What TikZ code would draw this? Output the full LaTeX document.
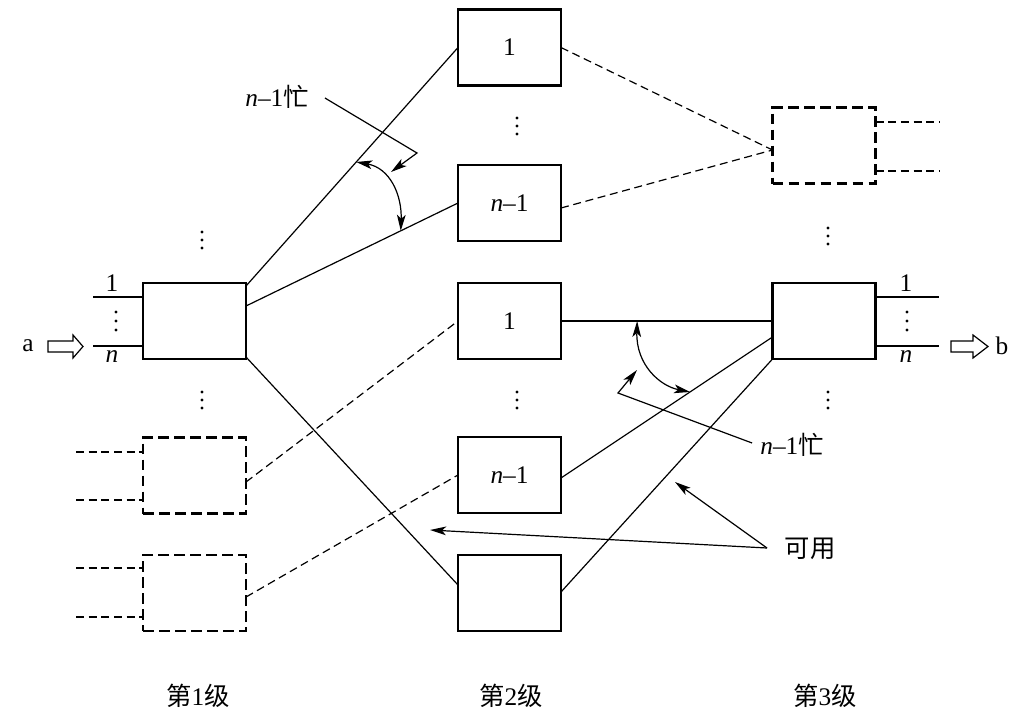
\documentclass[tikz,border=0pt]{standalone}
\usepackage{fontspec}
\setmainfont{Liberation Serif}
\newfontfamily\cjk{Noto Sans CJK SC}
\usetikzlibrary{arrows.meta,calc}
\begin{document}
\begin{tikzpicture}[x=0.75pt,y=-0.75pt,
  box/.style={draw,line width=1.8pt,minimum width=77.25pt,minimum height=57pt,inner sep=0pt,outer sep=0pt,font=\fontsize{19}{22}\selectfont},
  dbox/.style={box,dash pattern=on 8pt off 4pt},
  conn/.style={line width=0.9pt},
  dconn/.style={conn,dash pattern=on 6pt off 3.5pt},
  arr/.style={-{Stealth[length=12pt,width=6.5pt,inset=3pt]}},
  darr/.style={{Stealth[length=12pt,width=6.5pt,inset=3pt]}-{Stealth[length=12pt,width=6.5pt,inset=3pt]}},
  lbl/.style={font=\fontsize{19}{22}\selectfont,inner sep=0pt},
  hollow/.style={draw,line width=0.9pt,fill=white}
]
\useasboundingbox (0,0) rectangle (1023,717);

% stage 1
\node[box] (s1) at (194.5,321) {};
\node[dbox] (s1d1) at (194.5,475.5) {};
\node[dbox] (s1d2) at (194.5,593) {};
% stage 2
\node[box] (s2a) at (509.5,47.5) {1};
\node[box] (s2b) at (509.5,203) {\textit{n}–1};
\node[box] (s2c) at (509.5,321) {1};
\node[box] (s2d) at (509.5,475) {\textit{n}–1};
\node[box] (s2e) at (509.5,593) {};
% stage 3
\node[dbox] (s3d) at (824,145.5) {};
\node[box] (s3) at (824,321) {};

% inputs of stage 1
\coordinate (i1) at (93,297);
\coordinate (i2) at (93,346);
\draw[conn] (i1) -- (s1.west |- i1);
\draw[conn] (i2) -- (s1.west |- i2);
\node[lbl] (in1) at (112,283) {1};
\node[lbl] (inn) at (112,357) {\textit{n}};
\foreach \yy in {312,321,330} \fill (116,\yy) circle (1.7);

\coordinate (d11) at (76,452);
\coordinate (d12) at (76,500);
\coordinate (d21) at (76,568);
\coordinate (d22) at (76,617);
\draw[dconn] (d11) -- (s1d1.west |- d11);
\draw[dconn] (d12) -- (s1d1.west |- d12);
\draw[dconn] (d21) -- (s1d2.west |- d21);
\draw[dconn] (d22) -- (s1d2.west |- d22);

% outputs of stage 3
\coordinate (o1) at (939,297);
\coordinate (o2) at (939,346);
\draw[conn] (s3.east |- o1) -- (o1);
\draw[conn] (s3.east |- o2) -- (o2);
\node[lbl] (out1) at (906,283) {1};
\node[lbl] (outn) at (906,357) {\textit{n}};
\foreach \yy in {312,321,330} \fill (907,\yy) circle (1.7);

\coordinate (e1) at (940,122);
\coordinate (e2) at (940,171);
\draw[dconn] (s3d.east |- e1) -- (e1);
\draw[dconn] (s3d.east |- e2) -- (e2);

% vertical dots
\foreach \xx in {202,517,828} {
  \foreach \yy in {392,400,408} \fill (\xx,\yy) circle (1.7);
}
\foreach \yy in {232,240,248} \fill (202,\yy) circle (1.7);
\foreach \yy in {118,126,134} \fill (517,\yy) circle (1.7);
\foreach \yy in {228,236,244} \fill (828,\yy) circle (1.7);

% connectors stage 1 -> 2
\coordinate (L1s) at ($(s1.north east)+(0,3)$);
\coordinate (L2s) at ($(s1.east)+(0,-15)$);
\coordinate (L3s) at ($(s1.south east)+(0,-2)$);
\draw[conn] (L1s) -- (s2a.west);
\draw[conn] (L2s) -- (s2b.west);
\draw[conn] (L3s) -- ($(s2e.west)+(0,-8)$);
\draw[dconn] ($(s1d1.east)+(0,6.5)$) -- (s2c.west);
\draw[dconn] ($(s1d2.east)+(0,4)$) -- (s2d.west);

% connectors stage 2 -> 3
\coordinate (m3) at ($(s3d.west)+(0,4.5)$);
\draw[dconn] (s2a.east) -- (m3);
\draw[dconn] ($(s2b.east)+(0,5)$) -- (m3);
\draw[conn] (s2c.east) -- (s3.west);
\coordinate (S2s) at ($(s2d.east)+(0,3)$);
\coordinate (S2e) at ($(s3.west)+(0,16)$);
\draw[conn] (S2s) -- (S2e);
\draw[conn] ($(s2e.east)+(0,-1)$) -- (s3.south west);

% annotation top
\node[lbl] (t1) at (277,97) {\textit{n}–1{\cjk 忙}};
\draw[conn,arr] ($(t1.east)+(16,1)$) -- (417,153) -- (391,172);
\draw[conn,darr] ($(L1s)!0.52!(s2a.west)$) .. controls (390,168) and (402,195) .. ($(L2s)!0.73!(s2b.west)$);

% annotation middle
\node[lbl] (t2) at (792,445) {\textit{n}–1{\cjk 忙}};
\draw[conn,arr] ($(t2.west)+(-8,-2)$) -- (618,393) -- (637,370);
\draw[conn,darr] ($(s2c.east)!0.36!(s3.west)$) .. controls (636,365) and (660,386) .. ($(S2s)!0.61!(S2e)$);

% annotation available
\node[lbl] (t3) at (810,549) {\cjk 可用};
\coordinate (k) at (767,548);
\draw[conn,arr] (k) -- (430,530);
\draw[conn,arr] (k) -- (675,482);

% hollow arrows
\node[lbl] (a) at (28,346) {a};
\draw[hollow] (48,341) -- (73,341) -- (73,335) -- (83,346.5) -- (73,358) -- (73,352) -- (48,352) -- cycle;
\node[lbl] (b) at (1002,346) {b};
\draw[hollow] (951,341) -- (973,341) -- (973,335) -- (988,346.5) -- (973,358) -- (973,352) -- (951,352) -- cycle;

% stage labels
\node[lbl] (g1) at (198,696) {{\cjk 第}1{\cjk 级}};
\node[lbl] (g2) at (511,696) {{\cjk 第}2{\cjk 级}};
\node[lbl] (g3) at (825,696) {{\cjk 第}3{\cjk 级}};
\end{tikzpicture}
\end{document}
